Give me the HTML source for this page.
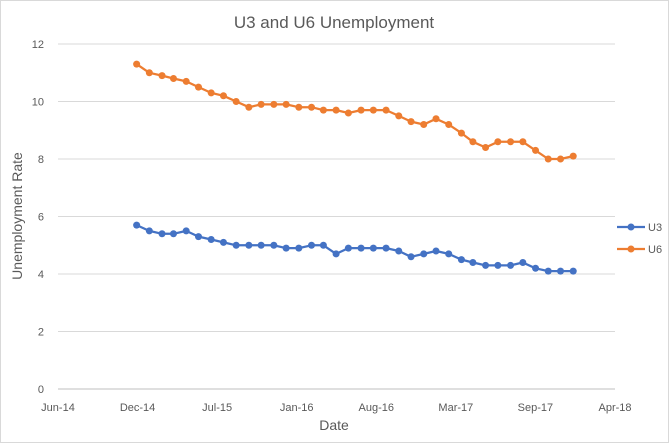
<!DOCTYPE html>
<html><head><meta charset="utf-8"><style>
body{margin:0;background:#fff;}
svg{display:block;font-family:"Liberation Sans",sans-serif;}
</style></head><body>
<svg width="669" height="443" viewBox="0 0 669 443">
<rect x="0.5" y="0.5" width="668" height="442" fill="#fff" stroke="#d9d9d9"/>
<text x="334" y="28" text-anchor="middle" font-size="17" fill="#595959">U3 and U6 Unemployment</text>
<g id="grid"></g><g id="xt"></g><g id="yt"></g><g id="series"></g>
<text x="334" y="430" text-anchor="middle" font-size="14" fill="#595959">Date</text>
<text transform="translate(22,216) rotate(-90)" text-anchor="middle" font-size="14" fill="#595959">Unemployment Rate</text>
<g><line x1="617" y1="227" x2="645" y2="227" stroke="#4472c4" stroke-width="2.25"/><circle cx="631" cy="227" r="3.5" fill="#4472c4"/><text x="648" y="231" font-size="11" fill="#595959">U3</text></g>
<g><line x1="617" y1="249" x2="645" y2="249" stroke="#ed7d31" stroke-width="2.25"/><circle cx="631" cy="249" r="3.5" fill="#ed7d31"/><text x="648" y="253" font-size="11" fill="#595959">U6</text></g>
</svg>
<script>
const startMonth = "2014-12";
const u3 = [5.7,5.5,5.4,5.4,5.5,5.3,5.2,5.1,5.0,5.0,5.0,5.0,4.9,4.9,5.0,5.0,4.7,4.9,4.9,4.9,4.9,4.8,4.6,4.7,4.8,4.7,4.5,4.4,4.3,4.3,4.3,4.4,4.2,4.1,4.1,4.1];
const u6 = [11.3,11.0,10.9,10.8,10.7,10.5,10.3,10.2,10.0,9.8,9.9,9.9,9.9,9.8,9.8,9.7,9.7,9.6,9.7,9.7,9.7,9.5,9.3,9.2,9.4,9.2,8.9,8.6,8.4,8.6,8.6,8.6,8.3,8.0,8.0,8.1];
const xTickLabels = ["Jun-14","Dec-14","Jul-15","Jan-16","Aug-16","Mar-17","Sep-17","Apr-18"];
const yTicks = [0,2,4,6,8,10,12];

const NS="http://www.w3.org/2000/svg";
const X0=58,X1=615,Y0=389,Y1=44;
const axisStart=Date.UTC(2014,5,6), dayMs=86400000, axisDays=1360;
function xOfDate(t){return X0+(t-axisStart)/dayMs/axisDays*(X1-X0);}
function yOf(v){return Y0-(v/12)*(Y0-Y1);}
function monthDate(i){const [y,m]=startMonth.split("-").map(Number);return Date.UTC(y,m-1+i,15);}
function mk(tag,attrs,parent){const e=document.createElementNS(NS,tag);for(const k in attrs)e.setAttribute(k,attrs[k]);parent.appendChild(e);return e;}
const grid=document.getElementById("grid"),yt=document.getElementById("yt"),xt=document.getElementById("xt"),ser=document.getElementById("series");
yTicks.forEach(v=>{
  const l=mk("line",{x1:X0,x2:X1,y1:yOf(v),y2:yOf(v),stroke:v===0?"#bfbfbf":"#d9d9d9","stroke-width":1},grid);
  
  
  const t=mk("text",{x:X0-14,y:yOf(v)+4,"text-anchor":"end","font-size":11,fill:"#595959"},yt);
  t.textContent=v;
  
  
});
xTickLabels.forEach((s,i)=>{
  const x=X0+i/(xTickLabels.length-1)*(X1-X0);
  const t=mk("text",{x:x,y:411,"text-anchor":"middle","font-size":11,fill:"#595959"},xt);
  t.textContent=s;
  
  
});
function draw(data,color,name){
  const g=mk("g",{},ser);
  
  
  const pts=data.map((v,i)=>xOfDate(monthDate(i)).toFixed(1)+","+yOf(v).toFixed(1)).join(" ");
  const pl=mk("polyline",{points:pts,fill:"none",stroke:color,"stroke-width":2.25,"stroke-linejoin":"round"},g);
  
  
  data.forEach((v,i)=>{
    const c=mk("circle",{cx:xOfDate(monthDate(i)),cy:yOf(v),r:3.5,fill:color},g);
    
    
  });
}
draw(u3,"#4472c4","u3");
draw(u6,"#ed7d31","u6");
</script>
</body></html>
